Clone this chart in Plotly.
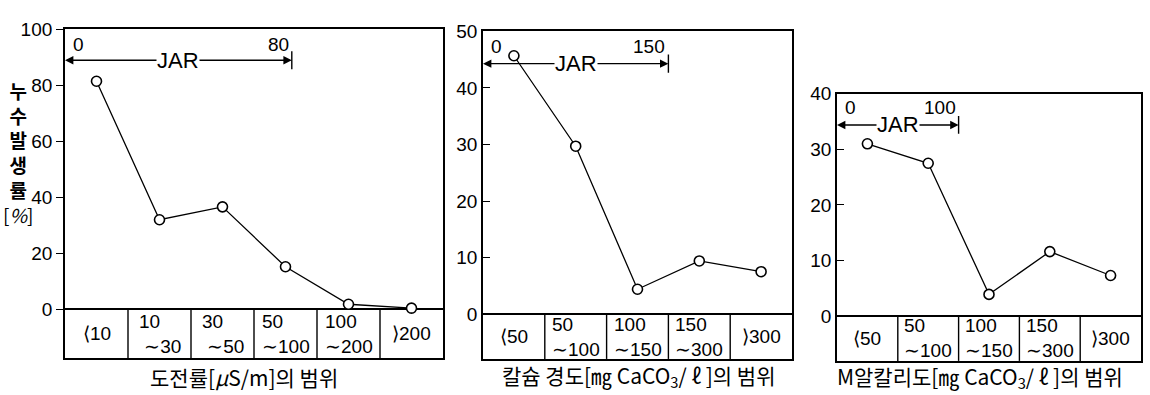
import plotly.graph_objects as go

W, H = 1150, 395

# ---- data ----
cond_cats = ["⟨10", "10<br> ∼30", "30<br> ∼50", "50<br>∼100", "100<br>∼200", "⟩200"]
cond_vals = [81.5, 32.0, 36.6, 15.2, 1.8, 0.4]
cond_edges = [0, 10, 30, 50, 100, 200]
cond_jar = [0, 80]

ca_cats = ["⟨50", "50<br>∼100", "100<br>∼150", "150<br>∼300", "⟩300"]
ca_vals = [45.7, 29.7, 4.4, 9.4, 7.5]
ca_edges = [0, 50, 100, 150, 300]
ca_jar = [0, 150]

alk_cats = ["⟨50", "50<br>∼100", "100<br>∼150", "150<br>∼300", "⟩300"]
alk_vals = [31.0, 27.5, 3.9, 11.6, 7.3]
alk_edges = [0, 50, 100, 150, 300]
alk_jar = [0, 100]

FONT = "Liberation Sans Narrow, Liberation Sans, Noto Sans CJK KR, sans-serif"
KFONT = "Noto Sans CJK KR, Liberation Sans, sans-serif"


def fx(px):
    return px / W


def fy(py):
    return 1 - py / H


panels = [
    dict(cats=cond_cats, vals=cond_vals, edges=cond_edges, jar=cond_jar,
         px=(65, 443), py=(20, 357), yr=(-17.4, 100), dt=20, ticks="outside",
         jar_y=89, lab_y=94.5, bar=3.2,
         title="도전률[<i>μ</i>S/m]의 범위", title_x=244, title_y=377),
    dict(cats=ca_cats, vals=ca_vals, edges=ca_edges, jar=ca_jar,
         px=(483, 792), py=(22, 358), yr=(-7.93, 50), dt=10, ticks="inside",
         jar_y=44.3, lab_y=47.3, bar=1.6,
         title="칼슘 경도[㎎ CaCO<sub>3</sub>/ ℓ ]의 범위", title_x=638, title_y=376),
    dict(cats=alk_cats, vals=alk_vals, edges=alk_edges, jar=alk_jar,
         px=(837, 1141), py=(86, 360), yr=(-8.07, 40), dt=10, ticks="inside",
         jar_y=34.4, lab_y=37.6, bar=1.6,
         title="M알칼리도[㎎ CaCO<sub>3</sub>/ ℓ ]의 범위", title_x=980, title_y=377),
]


def pos(v, edges):
    for i in range(len(edges) - 1):
        if edges[i] <= v <= edges[i + 1]:
            return -0.5 + i + (v - edges[i]) / (edges[i + 1] - edges[i])
    return -0.5 + len(edges) - 1


fig = go.Figure()
annotations = []
shapes = []

for k, p in enumerate(panels, start=1):
    xa = "x" if k == 1 else f"x{k}"
    ya = "y" if k == 1 else f"y{k}"
    n = len(p["cats"])
    xs = list(range(n))
    fig.add_trace(go.Scatter(
        x=xs, y=p["vals"], xaxis=xa, yaxis=ya, mode="lines+markers",
        line=dict(color="black", width=1.3),
        marker=dict(symbol="circle", size=10, color="white",
                    line=dict(color="black", width=1.6)),
        showlegend=False, hoverinfo="skip"))

    dom_x = [fx(p["px"][0]), fx(p["px"][1])]
    dom_y = [fy(p["py"][1]), fy(p["py"][0])]
    xkey = "xaxis" if k == 1 else f"xaxis{k}"
    ykey = "yaxis" if k == 1 else f"yaxis{k}"
    fig.update_layout(**{
        xkey: dict(domain=dom_x, range=[-0.5, n - 0.5], anchor=ya,
                   showticklabels=False, ticks="", showgrid=False,
                   zeroline=False, showline=True, mirror=True,
                   linecolor="black", linewidth=1.8, fixedrange=True),
        ykey: dict(domain=dom_y, range=list(p["yr"]), anchor=xa,
                   tickvals=list(range(0, int(p["yr"][1]) + 1, p["dt"])),
                   ticks=p["ticks"], ticklen=7, tickwidth=1.4, tickcolor="black",
                   tickfont=dict(family=FONT, size=19, color="black"),
                   showgrid=False, zeroline=True, zerolinecolor="black",
                   zerolinewidth=1.8, showline=True, mirror=True,
                   linecolor="black", linewidth=1.8, fixedrange=True),
    })

    # table cell dividers
    for i in range(1, n):
        shapes.append(dict(type="line", xref=xa, yref=ya, x0=i - 0.5, x1=i - 0.5,
                           y0=p["yr"][0], y1=0, line=dict(color="black", width=1.4)))
    # category labels in table
    for i, c in enumerate(p["cats"]):
        annotations.append(dict(x=i, y=p["yr"][0] / 2, xref=xa, yref=ya, text=c,
                                showarrow=False, align="left",
                                xanchor="center", yanchor="middle",
                                font=dict(family=FONT, size=19, color="black")))
    # JAR arrow
    x_l = pos(p["jar"][0], p["edges"])
    x_r = pos(p["jar"][1], p["edges"])
    xm = (x_l + x_r) / 2
    for xe in (x_l, x_r):
        annotations.append(dict(x=xe, y=p["jar_y"], ax=xm, ay=p["jar_y"],
                                xref=xa, yref=ya, axref=xa, ayref=ya, text="",
                                showarrow=True, arrowhead=2, arrowsize=1.2,
                                arrowwidth=1.4, arrowcolor="black"))
    shapes.append(dict(type="line", xref=xa, yref=ya, x0=x_r, x1=x_r,
                       y0=p["jar_y"] - p["bar"], y1=p["jar_y"] + p["bar"],
                       line=dict(color="black", width=1.4)))
    annotations.append(dict(x=xm, y=p["jar_y"], xref=xa, yref=ya, text="JAR",
                            showarrow=False, bgcolor="white", borderpad=0,
                            xanchor="center", yanchor="middle",
                            font=dict(family="Liberation Sans, sans-serif", size=22, color="black")))
    annotations.append(dict(x=x_l, y=p["lab_y"], xref=xa, yref=ya,
                            text=str(p["jar"][0]), showarrow=False,
                            xanchor="left", yanchor="middle", xshift=6,
                            font=dict(family=FONT, size=19, color="black")))
    annotations.append(dict(x=x_r, y=p["lab_y"], xref=xa, yref=ya,
                            text=str(p["jar"][1]), showarrow=False,
                            xanchor="right", yanchor="middle", xshift=-1,
                            font=dict(family=FONT, size=19, color="black")))
    # x title
    annotations.append(dict(x=fx(p["title_x"]), y=fy(p["title_y"]),
                            xref="paper", yref="paper", text=p["title"],
                            showarrow=False, xanchor="center", yanchor="middle",
                            font=dict(family=KFONT, size=21, color="black")))

# y title (panel 1)
annotations.append(dict(x=fx(18), y=fy(146), xref="paper", yref="paper",
                        text="<b>누</b><br><b>수</b><br><b>발</b><br><b>생</b><br><b>률</b><br>[<i>%</i>]",
                        showarrow=False, yanchor="middle", xanchor="center",
                        font=dict(family=KFONT, size=19, color="black")))

fig.update_layout(width=W, height=H, margin=dict(l=0, r=0, t=0, b=0),
                  paper_bgcolor="white", plot_bgcolor="white",
                  annotations=annotations, shapes=shapes)

fig.write_html("out.html", config={"displayModeBar": False},
               post_script="document.body.style.margin='0';document.body.style.overflow='hidden';")
